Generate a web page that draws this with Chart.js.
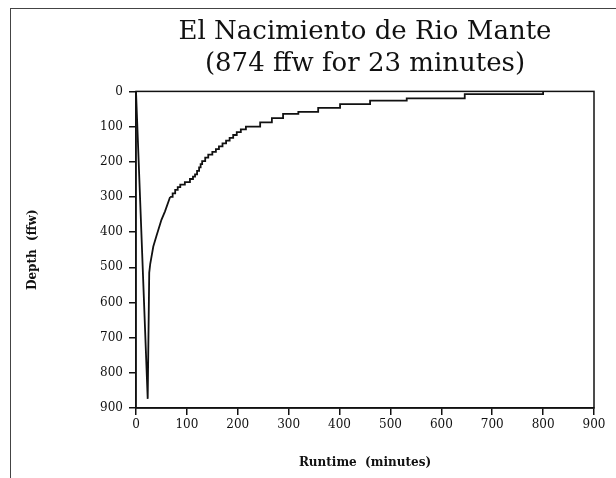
<!DOCTYPE html>
<html>
<head>
<meta charset="utf-8">
<script src="https://cdn.jsdelivr.net/npm/chart.js@4.4.1/dist/chart.umd.min.js"></script>
<style>
    body { margin: 0; background: #fff; }
    #cadre { position: relative; width: 616px; height: 478px; }
    #bord { position: absolute; left: 10px; top: 8px; right: 0; bottom: 0; border-left: 1px solid #444; border-top: 1px solid #444; }
    #grafico { position: absolute; left: 0; top: 0; }
</style>
</head>
<body>
<div id="cadre">
    <div id="bord"></div>
    <canvas id="grafico" width="616" height="478"></canvas>
</div>
<script>
// descida + subida rapida (minutos, pes)
const tempoDescida = [0, 23, 26, 28, 34, 40, 50, 57, 67];
const profDescida = [0, 874, 515, 490, 441, 412, 365, 341, 300];

// paradas de descompressao (inicio da parada, profundidade)
const tempoParadas = [67, 72, 77, 82, 87, 96, 106, 112, 116, 120, 124, 127, 130, 136, 142, 150, 157, 163, 170, 177, 184, 191, 198, 206, 216, 244, 267, 289, 319, 358, 401, 460, 532, 646, 800];
const profParadas = [300, 290, 280, 272, 265, 258, 249, 242, 236, 226, 216, 207, 198, 188, 180, 172, 164, 156, 148, 140, 132, 124, 116, 108, 100, 88, 76, 64, 58, 47, 36, 26, 20, 8, 0];

const titulo = ["El Nacimiento de Rio Mante", "(874 ffw for 23 minutes)"];
const tituloX = "Runtime  (minutes)";
const tituloY = "Depth  (ffw)";

const fonteSerif = "'DejaVu Serif', serif";

function pontos(xs, ys) {
    return xs.map((x, i) => ({x: x, y: ys[i]}));
}

const caixaPlugin = {
    id: 'caixa',
    afterDraw(chart) {
        const {ctx, chartArea} = chart;
        ctx.save();
        ctx.strokeStyle = '#111';
        ctx.lineWidth = 1.5;
        ctx.strokeRect(chartArea.left, chartArea.top, chartArea.right - chartArea.left, chartArea.bottom - chartArea.top);
        ctx.restore();
    }
};

const eixoComum = {
    type: 'linear',
    min: 0,
    max: 900,
    ticks: {stepSize: 100, color: '#111', font: {family: fonteSerif, size: 12}},
    grid: {drawOnChartArea: false, drawTicks: true, tickLength: 7, color: '#111', lineWidth: 1.5},
    border: {display: true, color: '#111', width: 1.5}
};

new Chart(document.getElementById('grafico'), {
    type: 'line',
    data: {
        datasets: [
            {
                data: pontos(tempoDescida, profDescida),
                borderColor: '#111',
                borderWidth: 1.8,
                pointRadius: 0,
                tension: 0,
                fill: false
            },
            {
                data: pontos(tempoParadas, profParadas),
                borderColor: '#111',
                borderWidth: 1.8,
                pointRadius: 0,
                stepped: 'before',
                fill: false
            }
        ]
    },
    options: {
        responsive: false,
        animation: false,
        devicePixelRatio: 1,
        layout: {padding: {left: 10, right: 22, top: 8, bottom: 0}},
        plugins: {
            legend: {display: false},
            tooltip: {enabled: false},
            title: {
                display: true,
                text: titulo,
                fullSize: false,
                color: '#111',
                font: {family: fonteSerif, size: 26, weight: 'normal', lineHeight: 1.2},
                padding: {top: 9, bottom: 12}
            }
        },
        scales: {
            x: Object.assign({}, eixoComum, {
                position: 'bottom',
                ticks: Object.assign({}, eixoComum.ticks, {padding: 3, maxRotation: 0}),
                title: {display: true, text: tituloX, color: '#111', font: {family: fonteSerif, size: 12, weight: 'bold'}, padding: {top: 4, bottom: 8}},
                afterFit: (escala) => { escala.height = 70; }
            }),
            y: Object.assign({}, eixoComum, {
                reverse: true,
                ticks: Object.assign({}, eixoComum.ticks, {padding: 6}),
                title: {display: true, text: tituloY, color: '#111', font: {family: fonteSerif, size: 12, weight: 'bold'}, padding: {top: 16, bottom: 4}},
                afterFit: (escala) => { escala.width = 126; }
            })
        }
    },
    plugins: [caixaPlugin]
});
</script>
</body>
</html>
